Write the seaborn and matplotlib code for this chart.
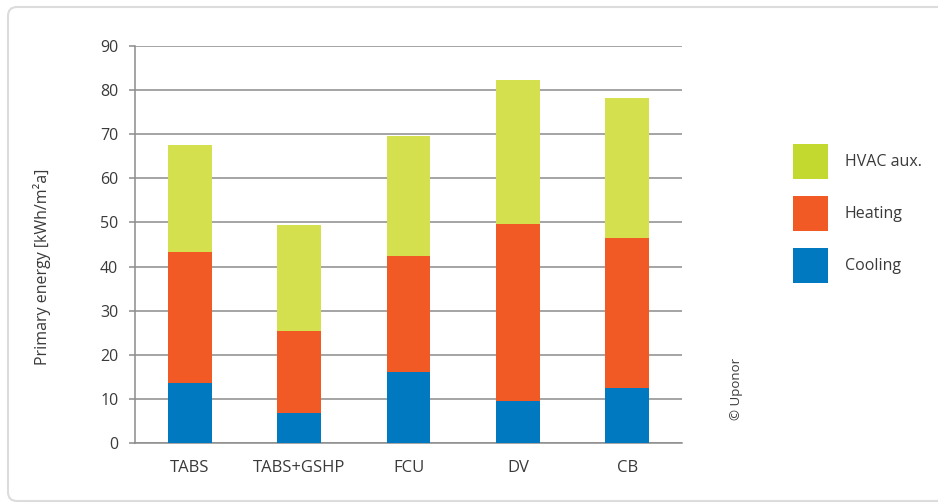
import matplotlib
matplotlib.use('Agg')
import matplotlib.pyplot as plt
from matplotlib.patches import Patch, FancyBboxPatch
import numpy as np
import pandas as pd
import seaborn as sns

categories = ['TABS', 'TABS+GSHP', 'FCU', 'DV', 'CB']
cooling = [13.5, 6.9, 16.0, 9.5, 12.5]
heating = [29.8, 18.4, 26.4, 40.2, 33.9]
hvac_aux = [24.3, 24.1, 27.2, 32.5, 31.8]
y_ticks = [0, 10, 20, 30, 40, 50, 60, 70, 80, 90]

COL_COOL = '#0079c1'
COL_HEAT = '#f15a24'
COL_AUX = '#d5e04f'
COL_AUX_LEG = '#c3d92f'
TEXT = '#3a3a3a'
GRID = '#8c8c8c'

sns.set_style('white')
plt.rcParams['font.family'] = ['Open Sans', 'DejaVu Sans']

df = pd.DataFrame({'cat': categories, 'cool': cooling, 'heat': heating, 'aux': hvac_aux})
df['lvl1'] = df['cool']
df['lvl2'] = df['cool'] + df['heat']
df['lvl3'] = df['lvl2'] + df['aux']

fig = plt.figure(figsize=(9.38, 5.04), dpi=100)
ax = fig.add_axes([135 / 938, 1 - 443 / 504, 547 / 938, 397 / 504])

# stacked bars: draw the cumulative totals, tallest first
for col, color in [('lvl3', COL_AUX), ('lvl2', COL_HEAT), ('lvl1', COL_COOL)]:
    sns.barplot(data=df, x='cat', y=col, color=color, width=0.4, ax=ax,
                saturation=1, edgecolor='none', zorder=3)

ax.set_xlim(-0.5, len(categories) - 0.5)
ax.set_ylim(0, 90)
ax.set_yticks(y_ticks)
ax.grid(axis='y', color=GRID, lw=1.1, zorder=0)
ax.set_axisbelow(True)
for s in ['top', 'right']:
    ax.spines[s].set_visible(False)
for s in ['left', 'bottom']:
    ax.spines[s].set_color(GRID)
    ax.spines[s].set_linewidth(1.1)

ax.set_xticks(np.arange(-0.5, len(categories)), minor=True)
ax.tick_params(axis='x', which='major', length=0, pad=12, labelsize=12, labelcolor=TEXT)
ax.tick_params(axis='x', which='minor', length=5, width=1.1, color=GRID, direction='out')
ax.tick_params(axis='y', length=4, width=1.1, color=GRID, pad=8, labelsize=11.5,
               labelcolor=TEXT, left=True)
ax.set_xlabel('')
ax.set_ylabel('')
fig.text(42 / 938, 1 - 267 / 504, 'Primary energy [kWh/m²a]', rotation=90,
         ha='center', va='center', fontsize=11.5, color=TEXT)

handles = [Patch(facecolor=COL_AUX_LEG, edgecolor='none', label='HVAC aux.'),
           Patch(facecolor=COL_HEAT, edgecolor='none', label='Heating'),
           Patch(facecolor=COL_COOL, edgecolor='none', label='Cooling')]
leg = fig.legend(handles=handles, loc='upper left', bbox_to_anchor=(793 / 938, 1 - 144 / 504),
                 frameon=False, fontsize=11.5, handlelength=2.2, handleheight=3.0,
                 handletextpad=1.05, labelspacing=1.05, borderpad=0, borderaxespad=0)
for t in leg.get_texts():
    t.set_color(TEXT)

fig.text(736 / 938, 1 - 389 / 504, '© Uponor', rotation=90, ha='center', va='center',
         fontsize=9.5, color=TEXT)

frame = FancyBboxPatch((8, 3), 960, 494, boxstyle='round,pad=0,rounding_size=9',
                       transform=None, facecolor='none', edgecolor='#dcdcdc', lw=1.5)
fig.add_artist(frame)

fig.savefig('out.png', dpi=100)
